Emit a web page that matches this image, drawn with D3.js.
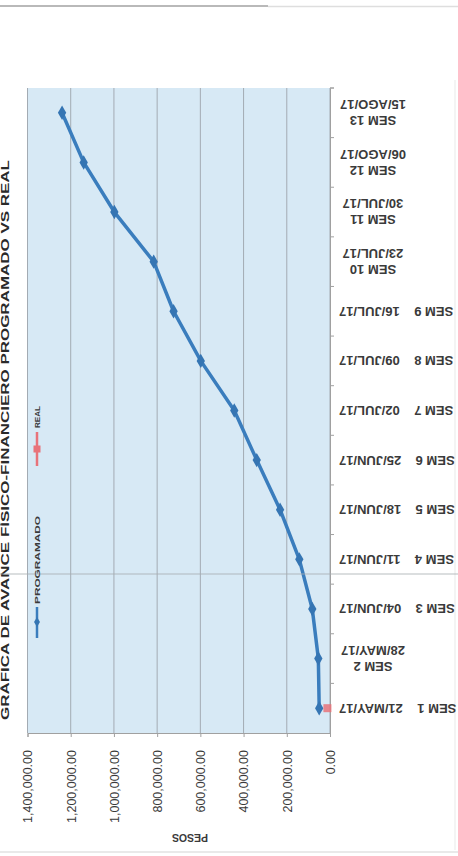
<!DOCTYPE html>
<html>
<head>
<meta charset="utf-8">
<script src="https://cdn.jsdelivr.net/npm/d3@7"></script>
<style>
  html, body { margin: 0; padding: 0; background: #ffffff; }
  svg { display: block; }
  text { font-family: "Liberation Sans", Arial, sans-serif; fill: #3a3a3a; }
</style>
</head>
<body>
<svg id="chart" width="458" height="856"></svg>
<script>
// ---- data ----
const categories = ["SEM 1","SEM 2","SEM 3","SEM 4","SEM 5","SEM 6","SEM 7","SEM 8","SEM 9","SEM 10","SEM 11","SEM 12","SEM 13"];
const dates = ["21/MAY/17","28/MAY/17","04/JUN/17","11/JUN/17","18/JUN/17","25/JUN/17","02/JUL/17","09/JUL/17","16/JUL/17","23/JUL/17","30/JUL/17","06/AGO/17","15/AGO/17"];
const wrappedLabel = [false,true,false,false,false,false,false,false,false,true,true,true,true];
const programado = [50000, 54000, 82000, 142000, 231000, 339000, 443000, 598000, 724000, 816000, 998000, 1140000, 1240000];
const real = [12000];
const valueTicks = [0, 200000, 400000, 600000, 800000, 1000000, 1200000, 1400000];
const seriesNames = ["PROGRAMADO", "REAL"];
const titleText = "GRÁFICA DE AVANCE FÍSICO-FINANCIERO PROGRAMADO VS REAL";
const axisTitle = "PESOS";

// ---- layout (the whole chart is rotated 90° counter-clockwise on the page) ----
const svg = d3.select("#chart");
const plot = { left: 27.5, right: 330, top: 88, bottom: 733 };
const blue = "#3a7dbd", red = "#e8737a";

const x = d3.scaleLinear().domain([0, 1400000]).range([plot.right, plot.left]);
const y = d3.scaleBand().domain(categories).range([plot.bottom, plot.top]);
const fmt = d3.format(",.2f");

// scan artefacts (page borders)
svg.append("line").attr("x1", 0).attr("x2", 268).attr("y1", 6).attr("y2", 6)
  .attr("stroke", "#b9b9b9").attr("stroke-width", 2);
svg.append("line").attr("x1", 268).attr("x2", 458).attr("y1", 6.5).attr("y2", 6.5)
  .attr("stroke", "#dedede").attr("stroke-width", 1.5);
svg.append("line").attr("x1", 0).attr("x2", 458).attr("y1", 852).attr("y2", 852)
  .attr("stroke", "#e2e2e2").attr("stroke-width", 1.5);
svg.append("line").attr("x1", 455).attr("x2", 455).attr("y1", 80).attr("y2", 850)
  .attr("stroke", "#f0f0f0").attr("stroke-width", 1.5);

// plot background
svg.append("rect")
  .attr("x", plot.left).attr("y", plot.top)
  .attr("width", plot.right - plot.left).attr("height", plot.bottom - plot.top)
  .attr("fill", "#d7e9f5");

// gridlines
svg.append("g").selectAll("line").data(valueTicks).join("line")
  .attr("x1", d => x(d)).attr("x2", d => x(d))
  .attr("y1", plot.top).attr("y2", plot.bottom)
  .attr("stroke", "#a3abb3").attr("stroke-width", 1);

// value axis (bottom)
const gx = svg.append("g").attr("transform", `translate(0,${plot.bottom})`)
  .call(d3.axisBottom(x).tickValues(valueTicks).tickSize(4).tickFormat(fmt));
gx.select(".domain").attr("stroke", "#a0a0a0");
gx.selectAll(".tick line").attr("stroke", "#a0a0a0");
gx.selectAll(".tick text")
  .attr("transform", "translate(0,17) rotate(-90)")
  .attr("x", 0).attr("y", 0).attr("dy", "0.35em")
  .attr("text-anchor", "end")
  .style("font-size", "12.5px").style("fill", "#3a3a3a");

// category axis (right side)
const gy = svg.append("g").attr("transform", `translate(${plot.right},0)`)
  .call(d3.axisRight(y).tickSize(0).tickFormat(""));
gy.select(".domain").attr("stroke", "#a0a0a0");
const bounds = categories.map(c => y(c)).concat([plot.top]);
svg.append("g").selectAll("line").data(bounds).join("line")
  .attr("x1", plot.right).attr("x2", plot.right + 4)
  .attr("y1", d => d).attr("y2", d => d)
  .attr("stroke", "#a0a0a0");

// category labels (rotated 180°)
const catG = svg.append("g");
categories.forEach((c, i) => {
  const cy = y(c) + y.bandwidth() / 2;
  if (wrappedLabel[i]) {
    const cx = 373;
    const t = catG.append("text")
      .attr("transform", `translate(${cx},${cy}) rotate(180)`)
      .attr("text-anchor", "middle")
      .style("font-size", "13px").style("font-weight", "bold");
    t.append("tspan").attr("x", 0).attr("y", -8).attr("dy", "0.35em").text(c);
    t.append("tspan").attr("x", 0).attr("y", 8).attr("dy", "0.35em").text(dates[i]);
  } else {
    catG.append("text")
      .attr("transform", `translate(339,${cy}) rotate(180)`)
      .attr("text-anchor", "end")
      .attr("dy", "0.35em")
      .attr("xml:space", "preserve")
      .style("white-space", "pre")
      .style("font-size", "13px").style("font-weight", "bold")
      .text(c + "    " + dates[i]);
  }
});

// axis title
svg.append("text")
  .attr("transform", `translate(190,838) rotate(180)`)
  .attr("text-anchor", "middle").attr("dy", "0.35em")
  .style("font-size", "10.5px").style("font-weight", "bold")
  .text(axisTitle);

// chart title along the left edge (kept fully on the page)
svg.append("text")
  .attr("transform", `translate(8.5,440) rotate(-90)`)
  .attr("text-anchor", "middle")
  .attr("textLength", 560).attr("lengthAdjust", "spacingAndGlyphs")
  .style("font-size", "10px").style("font-weight", "bold").style("fill", "#2a2a2a")
  .text(titleText);

// PROGRAMADO series
const cy = d => y(d) + y.bandwidth() / 2;
const line = d3.line().x(d => x(d.v)).y(d => cy(d.c));
const progData = categories.map((c, i) => ({ c, v: programado[i] }));
svg.append("path").datum(progData)
  .attr("d", line).attr("fill", "none")
  .attr("stroke", blue).attr("stroke-width", 3.5).attr("stroke-linejoin", "round");
const diamond = d3.symbol().type(d3.symbolDiamond).size(60);
svg.append("g").selectAll("path").data(progData).join("path")
  .attr("d", diamond)
  .attr("transform", d => `translate(${x(d.v)},${cy(d.c)})`)
  .attr("fill", "#3575b3");

// REAL series
const realData = real.map((v, i) => ({ c: categories[i], v }));
svg.append("g").selectAll("rect").data(realData).join("rect")
  .attr("x", d => x(d.v) - 4).attr("y", d => cy(d.c) - 4)
  .attr("width", 8).attr("height", 8)
  .attr("fill", red).attr("opacity", 0.85);

// scan line across the page
svg.append("line").attr("x1", 0).attr("x2", 458).attr("y1", 574).attr("y2", 574)
  .attr("stroke", "#a8adb2").attr("stroke-width", 1.2).attr("opacity", 0.8);

// legend (rotated)
const lg = svg.append("g");
// PROGRAMADO entry
lg.append("line").attr("x1", 37).attr("x2", 37).attr("y1", 607).attr("y2", 638)
  .attr("stroke", blue).attr("stroke-width", 2.5);
lg.append("path").attr("d", d3.symbol().type(d3.symbolDiamond).size(30))
  .attr("transform", "translate(37,622)").attr("fill", "#3575b3");
lg.append("text")
  .attr("transform", "translate(37,604) rotate(-90)")
  .attr("dy", "0.35em")
  .attr("textLength", 88).attr("lengthAdjust", "spacingAndGlyphs")
  .style("font-size", "8px").style("font-weight", "bold")
  .text(seriesNames[0]);
// REAL entry
lg.append("line").attr("x1", 37).attr("x2", 37).attr("y1", 432).attr("y2", 466)
  .attr("stroke", red).attr("stroke-width", 2.5);
lg.append("rect").attr("x", 33.5).attr("y", 445.5).attr("width", 7).attr("height", 7)
  .attr("fill", red);
lg.append("text")
  .attr("transform", "translate(37,428) rotate(-90)")
  .attr("dy", "0.35em")
  .attr("textLength", 22).attr("lengthAdjust", "spacingAndGlyphs")
  .style("font-size", "8px").style("font-weight", "bold")
  .text(seriesNames[1]);
</script>
</body>
</html>
